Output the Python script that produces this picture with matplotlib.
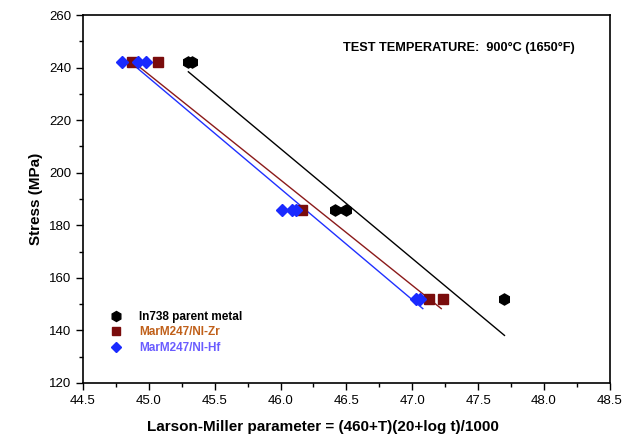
import matplotlib
matplotlib.use("Agg")
import matplotlib.pyplot as plt
from matplotlib.ticker import MultipleLocator

plt.rcParams['font.family'] = ['Liberation Sans', 'DejaVu Sans']

# In738 parent metal
in738_x = [45.30, 45.33, 46.41, 46.50, 47.70]
in738_y = [242, 242, 186, 186, 152]
# MarM247/NI-Zr
zr_x = [44.87, 45.07, 46.16, 47.13, 47.23]
zr_y = [242, 242, 186, 152, 152]
# MarM247/NI-Hf
hf_x = [44.80, 44.92, 44.98, 46.01, 46.09, 46.12, 47.03, 47.06]
hf_y = [242, 242, 242, 186, 186, 186, 152, 152]

# fitted lines (end points)
in738_fit_x = [45.30, 47.70]
in738_fit_y = [238.4, 138.1]
zr_fit_x = [44.88, 47.22]
zr_fit_y = [242.2, 148.3]
hf_fit_x = [44.87, 47.08]
hf_fit_y = [241.6, 148.3]

fig = plt.figure(figsize=(6.31, 4.42), dpi=100)
ax = fig.add_axes([0.1315, 0.1335, 0.835, 0.8325])

ax.plot(in738_fit_x, in738_fit_y, color='black', lw=1)
ax.plot(zr_fit_x, zr_fit_y, color='#8b1a1a', lw=1)
ax.plot(hf_fit_x, hf_fit_y, color='#2030ff', lw=1)

ax.plot(in738_x, in738_y, 'h', color='black', ms=8, ls='none', label='In738 parent metal')
ax.plot(zr_x, zr_y, 's', color='#7a0c0c', ms=6.5, ls='none', label='MarM247/NI-Zr')
ax.plot(hf_x, hf_y, 'D', color='#1a2aff', ms=6, ls='none', label='MarM247/NI-Hf')

ax.set_xlim(44.5, 48.5)
ax.set_ylim(120, 260)
ax.xaxis.set_major_locator(MultipleLocator(0.5))
ax.xaxis.set_minor_locator(MultipleLocator(0.25))
ax.yaxis.set_major_locator(MultipleLocator(20))
ax.yaxis.set_minor_locator(MultipleLocator(10))
ax.xaxis.set_major_formatter(matplotlib.ticker.FormatStrFormatter('%.1f'))
ax.tick_params(which='major', direction='out', length=5, width=1, labelsize=9.5)
ax.tick_params(which='minor', direction='out', length=3, width=1)
for s in ax.spines.values():
    s.set_linewidth(1.2)

ax.set_xlabel('Larson-Miller parameter = (460+T)(20+log t)/1000', fontsize=11, fontweight='bold')
ax.xaxis.set_label_coords(0.455, -0.1)
ax.set_ylabel('Stress (MPa)', fontsize=11, fontweight='bold')

ax.text(0.493, 0.91, 'TEST TEMPERATURE:  900°C (1650°F)', transform=ax.transAxes,
        fontsize=9.2, fontweight='bold', ha='left', va='center')

leg = ax.legend(loc='lower left', bbox_to_anchor=(0.03, 0.05), frameon=False,
                fontsize=8.5, handletextpad=1.3, labelspacing=0.3, handlelength=1.2,
                markerscale=0.9)
text_colors = ['black', '#c0601a', '#6a5cff']
for t, c in zip(leg.get_texts(), text_colors):
    t.set_color(c)
    t.set_fontweight('bold')

fig.savefig('out.png', dpi=100)
